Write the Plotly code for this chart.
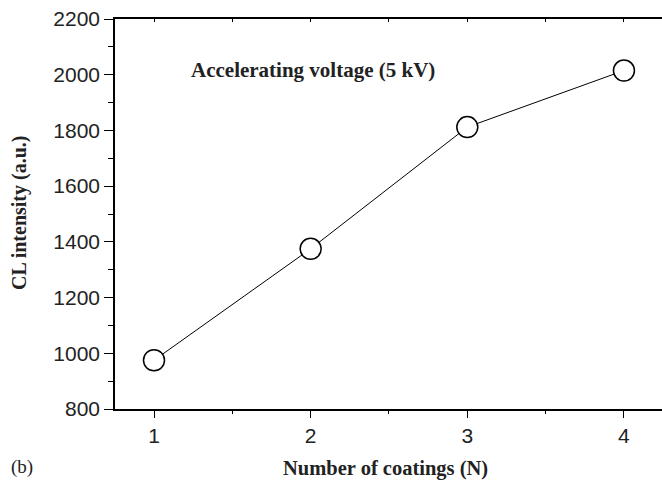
import plotly.graph_objects as go

coatings = [1, 2, 3, 4]
intensity = [975, 1375, 1812, 2015]
y_ticks = [800, 1000, 1200, 1400, 1600, 1800, 2000, 2200]
x_ticks = [1, 2, 3, 4]

serif = "Liberation Serif"
sans = "Liberation Sans"

W, H = 662, 481
L, R, T, B = 115, 0, 19, 72
pw, ph = W - L - R, H - T - B


def px(x):
    return (x - L) / pw


def py(y):
    return (H - B - y) / ph


fig = go.Figure()
fig.add_trace(go.Scatter(
    x=coatings, y=intensity, mode="lines+markers",
    line=dict(color="black", width=1),
    marker=dict(symbol="circle", size=21, color="white",
                line=dict(color="black", width=1.5)),
    showlegend=False,
))
fig.add_trace(go.Scatter(x=[coatings[0]], y=[intensity[0]], xaxis="x2",
                         mode="markers", marker=dict(opacity=0),
                         showlegend=False, hoverinfo="skip"))

fig.update_layout(
    width=W, height=H,
    margin=dict(l=L, r=R, t=T, b=B, autoexpand=False),
    plot_bgcolor="white", paper_bgcolor="white",
    xaxis=dict(range=[0.751, 4.243], tickvals=x_ticks, ticks="outside",
               ticklen=7, tickwidth=1, tickcolor="black", automargin=False,
               showline=True, linecolor="black", linewidth=1.5,
               showgrid=False, zeroline=False,
               minor=dict(ticks="outside", ticklen=3, dtick=0.5, tick0=1,
                          tickcolor="black", showgrid=False),
               tickfont=dict(family=sans, size=21, color="#222")),
    xaxis2=dict(range=[0.751, 4.243], overlaying="x", side="top",
                tickvals=[1, 1.5, 2, 2.5, 3, 3.5, 4], ticks="inside",
                ticklen=3, tickcolor="black", showticklabels=False,
                automargin=False,
                showline=True, linecolor="black", linewidth=1.5,
                showgrid=False, zeroline=False),
    yaxis=dict(range=[800, 2200], tickvals=y_ticks, ticks="outside",
               ticklen=9, tickwidth=1, tickcolor="black", automargin=False,
               showline=True, linecolor="black", linewidth=1.5,
               showgrid=False, zeroline=False,
               minor=dict(ticks="outside", ticklen=5, dtick=100,
                          tickcolor="black", showgrid=False),
               tickfont=dict(family=sans, size=21, color="#222")),
    annotations=[
        dict(text="<b>Accelerating voltage (5 kV)</b>", x=px(189), y=py(70),
             xref="paper", yref="paper", xanchor="left", yanchor="middle",
             showarrow=False, font=dict(family=serif, size=21, color="#222")),
        dict(text="<b>CL intensity (a.u.)</b>", x=px(19), y=py(213),
             xref="paper", yref="paper", textangle=-90, showarrow=False,
             xanchor="center", yanchor="middle",
             font=dict(family=serif, size=20, color="#222")),
        dict(text="<b>Number of coatings (N)</b>", x=px(385), y=py(469),
             xref="paper", yref="paper", xanchor="center", yanchor="middle",
             showarrow=False, font=dict(family=serif, size=20.5, color="#222")),
        dict(text="(b)", x=px(22), y=py(467), xref="paper", yref="paper",
             xanchor="center", yanchor="middle", showarrow=False,
             font=dict(family=serif, size=19, color="#222")),
    ],
)

fig.write_html("out.html", config={"displayModeBar": False},
               post_script="document.body.style.margin='0';"
                           "document.body.style.overflow='hidden';")
